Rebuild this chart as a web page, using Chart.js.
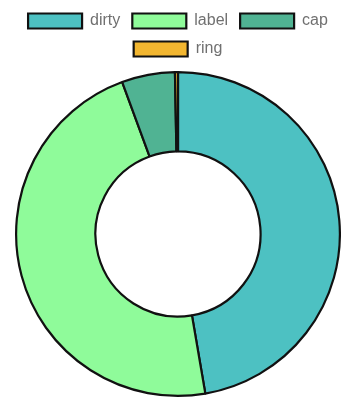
<!DOCTYPE html>
<html>
<head>
<meta charset="utf-8">
<script src="https://cdn.jsdelivr.net/npm/chart.js@4/dist/chart.umd.min.js"></script>
<style>
html,body{margin:0;padding:0;background:#fff;}
canvas{display:block;}
</style>
</head>
<body>
<canvas id="c" width="341" height="398"></canvas>
<script>
const categories = ["dirty", "label", "cap", "ring"];
const values = [47.3, 47.1, 5.3, 0.3];
const colors = ["#4dc1c2", "#8ffb9a", "#50b393", "#f2b630"];

const legendSpacer = {
  id: "legendSpacer",
  beforeInit(chart) {
    const origFit = chart.legend.fit;
    chart.legend.fit = function () {
      origFit.call(this);
      this.height += 3;
    };
  }
};

new Chart(document.getElementById("c"), {
  type: "doughnut",
  data: {
    labels: categories,
    datasets: [{
      data: values,
      backgroundColor: colors,
      borderColor: "#111",
      borderWidth: 2.2
    }]
  },
  options: {
    responsive: false,
    animation: false,
    cutout: "51%",
    layout: { padding: { left: 15, top: 1, right: 0, bottom: 0 } },
    plugins: {
      tooltip: { enabled: false },
      legend: {
        position: "top",
        labels: {
          boxWidth: 54,
          boxHeight: 15,
          padding: 12,
          color: "#707070",
          font: { family: "'Liberation Sans', Arial, sans-serif", size: 16 }
        }
      }
    }
  },
  plugins: [legendSpacer]
});
</script>
</body>
</html>
